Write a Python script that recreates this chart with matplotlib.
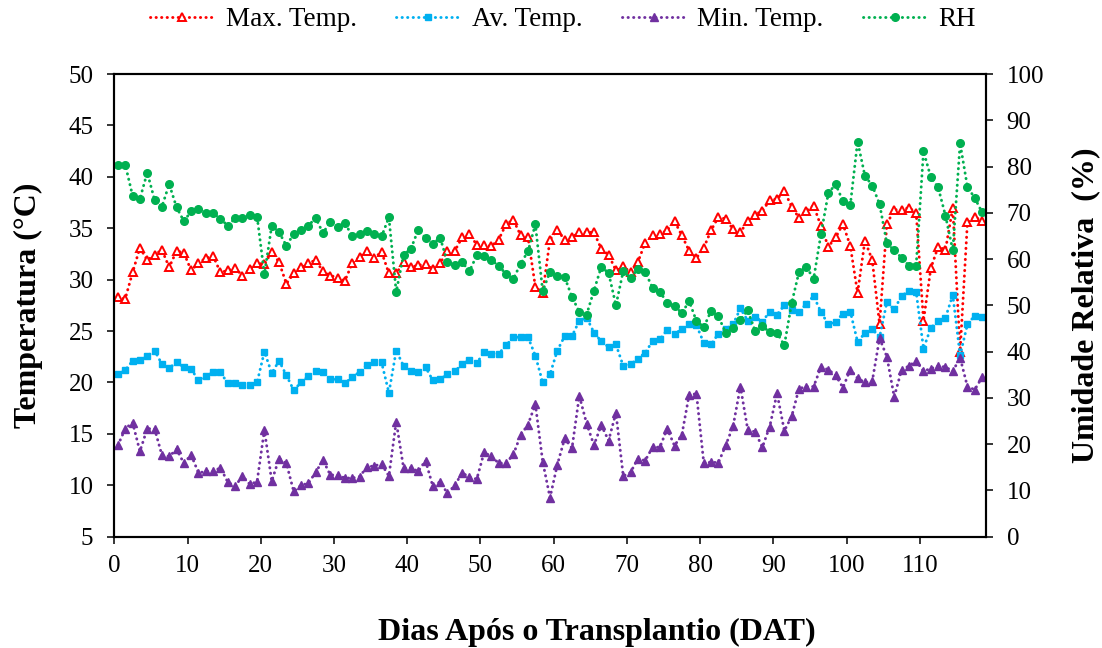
import numpy as np
import matplotlib
matplotlib.use('Agg')
import matplotlib.pyplot as plt

plt.rcParams['font.family'] = ['Liberation Serif', 'DejaVu Serif']

# daily weather after transplanting (days 0..118)
days = np.arange(119)

t_max = [28.3, 28.15, 30.7, 33.1, 31.9, 32.4, 32.9, 31.2, 32.8, 32.6,
         30.9, 31.6, 32.1, 32.3, 30.7, 30.9, 31.1, 30.4, 31.0, 31.6,
         31.5, 32.7, 31.7, 29.6, 30.6, 31.2, 31.6, 31.9, 30.8, 30.4,
         30.2, 29.9, 31.6, 32.2, 32.8, 32.1, 32.7, 30.6, 30.6, 31.7,
         31.2, 31.4, 31.5, 31.0, 31.6, 32.8, 32.8, 34.1, 34.4, 33.4,
         33.4, 33.25, 33.9, 35.4, 35.8, 34.3, 34.1, 29.3, 28.7, 33.9,
         34.8, 33.9, 34.1, 34.6, 34.6, 34.6, 33.0, 32.4, 30.9, 31.3,
         30.7, 31.7, 33.6, 34.3, 34.4, 34.8, 35.7, 34.3, 32.8, 32.1,
         33.1, 34.8, 36.1, 35.9, 34.9, 34.6, 35.7, 36.3, 36.7, 37.7,
         37.85, 38.6, 37.1, 36.0, 36.7, 37.2, 35.2, 33.2, 34.1, 35.4,
         33.3, 28.7, 33.8, 31.9, 25.7, 35.4, 36.8, 36.8, 37.0, 36.5,
         26.0, 31.1, 33.2, 32.9, 37.0, 23.0, 35.6, 36.1, 35.7]

t_av = [20.8, 21.2, 22.1, 22.2, 22.55, 23.1, 21.8, 21.4, 21.95, 21.5,
        21.3, 20.2, 20.65, 21.0, 21.0, 19.9, 19.9, 19.75, 19.75, 20.0,
        23.0, 20.9, 22.1, 20.7, 19.25, 20.0, 20.6, 21.1, 21.0, 20.3,
        20.3, 19.9, 20.55, 21.0, 21.7, 21.95, 21.95, 19.0, 23.1, 21.6,
        21.1, 21.0, 21.5, 20.2, 20.3, 20.8, 21.1, 21.75, 22.2, 21.85,
        23.0, 22.8, 22.8, 23.6, 24.4, 24.4, 24.4, 22.6, 20.0, 20.8,
        23.1, 24.5, 24.5, 26.0, 26.3, 24.85, 24.0, 23.45, 23.7, 21.6,
        21.75, 22.3, 22.9, 24.0, 24.2, 25.1, 24.7, 25.2, 25.7, 25.55,
        23.85, 23.7, 24.75, 25.2, 25.65, 27.2, 26.0, 26.4, 25.9, 26.9,
        26.6, 27.5, 27.0, 26.85, 27.65, 28.4, 26.85, 25.65, 25.9, 26.7,
        26.9, 23.95, 24.8, 25.2, 24.4, 27.8, 27.1, 28.4, 28.9, 28.8,
        23.3, 25.3, 26.0, 26.3, 28.5, 22.65, 25.65, 26.5, 26.35]

t_min = [13.9, 15.5, 16.1, 13.3, 15.5, 15.5, 12.95, 12.8, 13.5, 12.15,
         12.95, 11.2, 11.35, 11.35, 11.7, 10.3, 9.9, 10.9, 10.1, 10.35,
         15.4, 10.4, 12.6, 12.15, 9.4, 10.0, 10.2, 11.25, 12.45, 11.0,
         11.0, 10.7, 10.7, 10.85, 11.75, 11.9, 12.05, 10.9, 16.2, 11.7,
         11.7, 11.35, 12.4, 9.9, 10.35, 9.2, 10.0, 11.2, 10.8, 10.6,
         13.2, 12.8, 12.15, 12.15, 13.0, 14.9, 15.9, 17.9, 12.3, 8.8,
         12.0, 14.55, 13.6, 18.7, 16.0, 13.9, 15.85, 14.35, 17.05, 10.9,
         11.25, 12.6, 12.4, 13.7, 13.7, 15.5, 13.85, 14.9, 18.8, 18.9,
         12.15, 12.25, 12.2, 13.9, 15.75, 19.6, 15.4, 15.2, 13.7, 15.7,
         18.95, 15.3, 16.7, 19.4, 19.6, 19.6, 21.5, 21.25, 20.7, 19.5,
         21.25, 20.4, 20.0, 20.1, 24.3, 22.5, 18.6, 21.2, 21.6, 22.1,
         21.1, 21.35, 21.6, 21.5, 21.1, 22.4, 19.6, 19.3, 20.5]

rh = [80.4, 80.4, 73.7, 73.0, 78.7, 72.8, 71.3, 76.2, 71.2, 68.2,
      70.3, 70.8, 69.9, 69.9, 68.7, 67.2, 68.8, 68.8, 69.5, 69.2,
      56.7, 67.2, 65.8, 62.9, 65.4, 66.2, 67.2, 68.9, 65.6, 68.1,
      67.0, 67.8, 64.9, 65.4, 66.0, 65.4, 64.9, 69.0, 52.9, 60.9,
      62.2, 66.3, 64.6, 63.3, 64.6, 59.3, 58.8, 59.3, 57.4, 60.8,
      60.6, 59.7, 58.6, 56.7, 55.75, 59.0, 61.7, 67.5, 53.1, 57.2,
      56.3, 56.1, 51.8, 48.6, 48.0, 53.2, 58.3, 57.0, 50.0, 57.4,
      55.9, 57.9, 57.2, 53.8, 52.9, 50.6, 49.9, 48.3, 50.9, 46.6,
      45.3, 48.8, 47.6, 44.0, 45.0, 46.9, 48.9, 44.5, 45.5, 44.2,
      44.0, 41.4, 50.5, 57.2, 58.3, 55.75, 65.4, 74.2, 76.2, 72.5,
      71.6, 85.4, 78.0, 75.9, 71.9, 63.4, 61.9, 60.3, 58.6, 58.6,
      83.3, 77.7, 75.5, 69.4, 61.9, 85.0, 75.6, 73.2, 70.1]

fig = plt.figure(figsize=(11.02, 6.48), dpi=100)
ax = fig.add_axes([0.1037, 0.1718, 0.7908, 0.7140])

# each reading sits in the middle of its day slot
x = days + 0.5
dots = dict(linestyle=(0, (0.1, 1.8)), linewidth=2.1, dash_capstyle='round')

l1, = ax.plot(x, t_max, color='#FF0000', marker='^', markersize=5.5,
              markerfacecolor='white', markeredgewidth=1.4, label='Max. Temp.', **dots)
l2, = ax.plot(x, t_av, color='#00B0F0', marker='s', markersize=5,
              label='Av. Temp.', **dots)
l3, = ax.plot(x, t_min, color='#7030A0', marker='^', markersize=5.5,
              label='Min. Temp.', **dots)

ax2 = ax.twinx()
l4, = ax2.plot(x, rh, color='#00B050', marker='o', markersize=5.5,
               label='RH', **dots)

ax.set_xlim(0, 119)
ax.set_ylim(5, 50)
ax2.set_ylim(0, 100)
ax.set_xticks(range(0, 111, 10))
ax.set_yticks(range(5, 51, 5))
ax2.set_yticks(range(0, 101, 10))

for a in (ax, ax2):
    for s in a.spines.values():
        s.set_linewidth(1.5)
ax.tick_params(axis='y', direction='out', length=5, width=1.1, labelsize=18, pad=10)
ax.tick_params(axis='x', direction='out', length=5, width=1.1, labelsize=18, pad=8)
ax2.tick_params(axis='y', direction='out', length=5, width=1.1, labelsize=18, pad=10)

fig.legend(handles=[l1, l2, l3, l4], ncol=4, loc='center',
           bbox_to_anchor=(563 / 1102, 1 - 20 / 648), frameon=False,
           fontsize=19.5, handlelength=2.4, handletextpad=0.4, columnspacing=1.45)

fig.text(28 / 1102, 1 - 305 / 648, 'Temperatura (°C)', rotation=90,
         ha='center', va='center', fontsize=23, fontweight='bold')
fig.text(1086 / 1102, 1 - 305 / 648, 'Umidade Relativa  (%)', rotation=90,
         ha='center', va='center', fontsize=23, fontweight='bold')
fig.text(597 / 1102, 1 - 632 / 648, 'Dias Após o Transplantio (DAT)',
         ha='center', va='center', fontsize=23, fontweight='bold')

fig.savefig('out.png', dpi=100)
